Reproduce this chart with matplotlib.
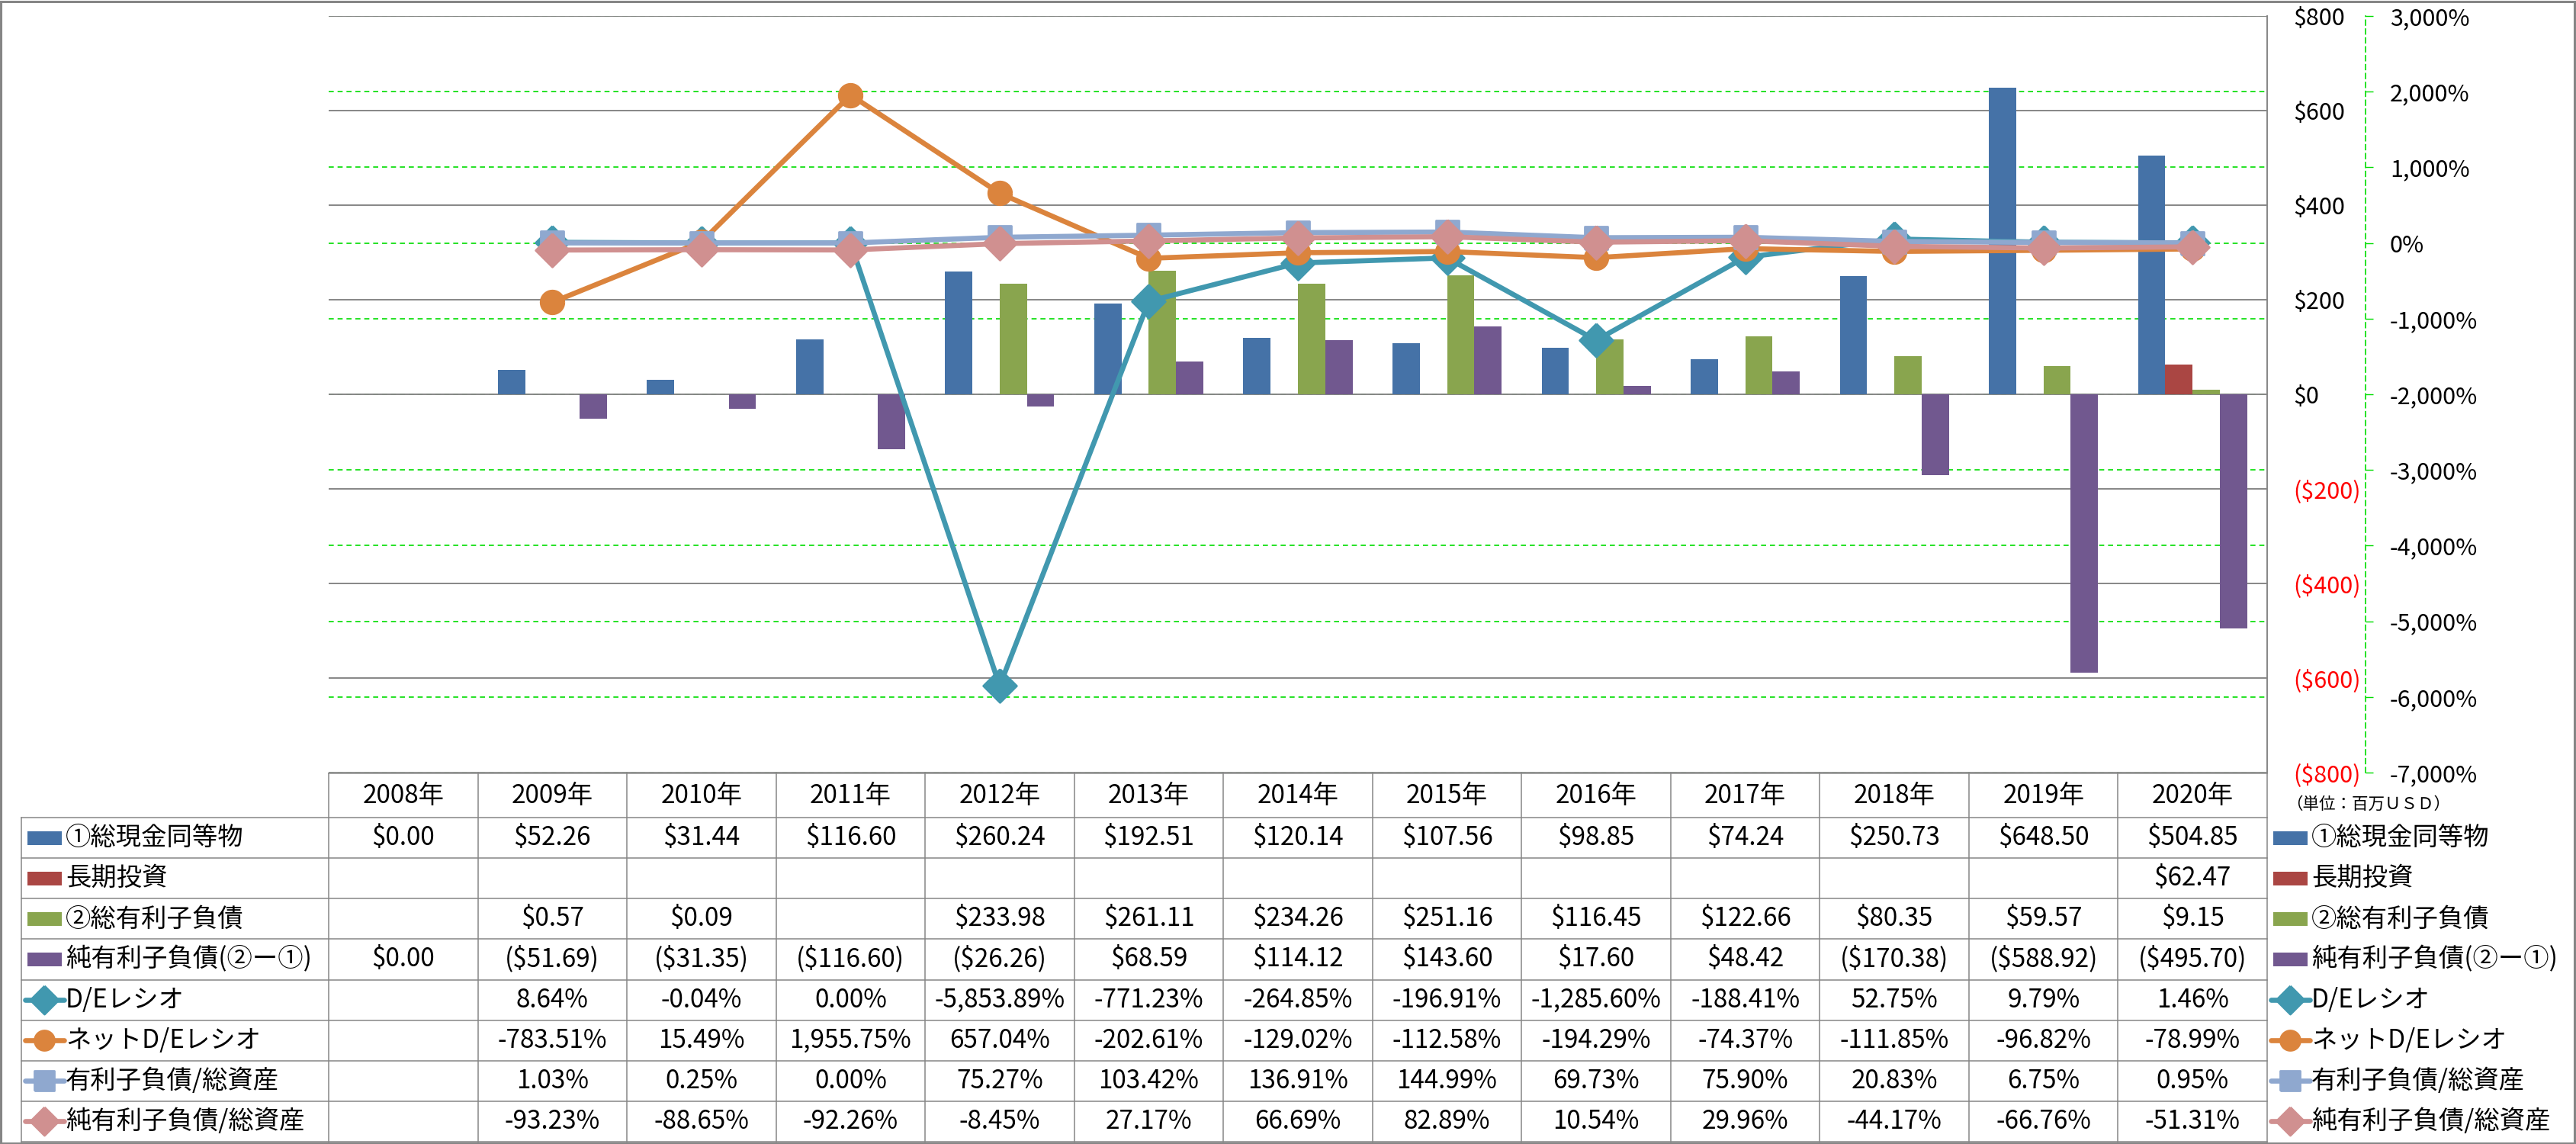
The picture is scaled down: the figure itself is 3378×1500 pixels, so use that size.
import matplotlib
matplotlib.use("Agg")
import matplotlib.pyplot as plt
import numpy as np
from matplotlib.patches import Rectangle
from matplotlib.markers import MarkerStyle

plt.rcParams['font.family'] = ['Noto Sans CJK JP', 'DejaVu Sans']

nan = np.nan
years = ["2008年", "2009年", "2010年", "2011年", "2012年", "2013年", "2014年",
         "2015年", "2016年", "2017年", "2018年", "2019年", "2020年"]

cash = [0.00, 52.26, 31.44, 116.60, 260.24, 192.51, 120.14, 107.56, 98.85, 74.24, 250.73, 648.50, 504.85]
lt_invest = [nan, nan, nan, nan, nan, nan, nan, nan, nan, nan, nan, nan, 62.47]
debt = [nan, 0.57, 0.09, nan, 233.98, 261.11, 234.26, 251.16, 116.45, 122.66, 80.35, 59.57, 9.15]
net_debt = [0.00, -51.69, -31.35, -116.60, -26.26, 68.59, 114.12, 143.60, 17.60, 48.42, -170.38, -588.92, -495.70]

de_ratio = [nan, 8.64, -0.04, 0.00, -5853.89, -771.23, -264.85, -196.91, -1285.60, -188.41, 52.75, 9.79, 1.46]
net_de_ratio = [nan, -783.51, 15.49, 1955.75, 657.04, -202.61, -129.02, -112.58, -194.29, -74.37, -111.85, -96.82, -78.99]
debt_assets = [nan, 1.03, 0.25, 0.00, 75.27, 103.42, 136.91, 144.99, 69.73, 75.90, 20.83, 6.75, 0.95]
net_debt_assets = [nan, -93.23, -88.65, -92.26, -8.45, 27.17, 66.69, 82.89, 10.54, 29.96, -44.17, -66.76, -51.31]

bar_names = ["①総現金同等物", "長期投資", "②総有利子負債", "純有利子負債(②ー①)"]
bar_data = [cash, lt_invest, debt, net_debt]
bar_colors = ["#4572A7", "#AA4643", "#89A54E", "#71588F"]

line_names = ["D/Eレシオ", "ネットD/Eレシオ", "有利子負債/総資産", "純有利子負債/総資産"]
line_data = [de_ratio, net_de_ratio, debt_assets, net_debt_assets]
line_colors = ["#4198AF", "#DB843D", "#8FA8CF", "#D09090"]
line_markers = ["D", "o", "s", "D"]
line_msize = [31.5, 22, 22, 31.5]

usd_ticks = [800, 600, 400, 200, 0, -200, -400, -600, -800]
pct_ticks = [3000, 2000, 1000, 0, -1000, -2000, -3000, -4000, -5000, -6000, -7000]


def marker(kind):
    # markers as vertex lists so markersize = full tip-to-tip size
    if kind == "D":
        verts = [(0, 1), (1, 0), (0, -1), (-1, 0), (0, 1)]
    elif kind == "s":
        verts = [(-1, -1), (1, -1), (1, 1), (-1, 1), (-1, -1)]
    else:
        t = np.linspace(0, 2 * np.pi, 41)
        verts = list(zip(np.cos(t), np.sin(t)))
    return MarkerStyle(verts, joinstyle="round")


def fmt_usd(v):
    if np.isnan(v):
        return ""
    return f"(${-v:,.2f})" if v < 0 else f"${v:,.2f}"


def fmt_pct(v):
    if np.isnan(v):
        return ""
    return f"{v:,.2f}%"


W, H = 3378, 1500
PL, PR, PT, PB = 431, 2973, 21, 1013
GRAY = "#868686"
GREEN = "#00DD00"
FS = 22
TFS = 24
LW = 4.8

fig = plt.figure(figsize=(W / 100, H / 100), dpi=100)
rect = [PL / W, 1 - PB / H, (PR - PL) / W, (PB - PT) / H]
x = np.arange(len(years))

# green % grid (behind everything)
ax_g = fig.add_axes(rect)
ax_g.set_xlim(-0.5, len(years) - 0.5)
ax_g.set_ylim(-7000, 3000)
ax_g.set_yticks(pct_ticks)
ax_g.grid(axis='y', color=GREEN, ls=(0, (4, 3)), lw=1.2)
ax_g.tick_params(left=False, bottom=False, labelleft=False, labelbottom=False)
for s in ax_g.spines.values():
    s.set_visible(False)

# bars, $ axis
ax_b = fig.add_axes(rect, sharex=ax_g)
ax_b.patch.set_visible(False)
ax_b.set_ylim(-800, 800)
ax_b.set_axisbelow(True)
ax_b.grid(axis='y', color=GRAY, lw=1.4)
w = 0.183
for k, (vals, c) in enumerate(zip(bar_data, bar_colors)):
    ax_b.bar(x + (k - 1.5) * w, np.array(vals, dtype=float), width=w, color=c, zorder=2)
ax_b.yaxis.tick_right()
ax_b.set_yticks(usd_ticks, [f"(${-v:,})" if v < 0 else f"${v:,}" for v in usd_ticks])
ax_b.tick_params(axis='y', length=0, pad=25, labelsize=FS)
ax_b.tick_params(axis='x', bottom=False, labelbottom=False)
for lab, v in zip(ax_b.get_yticklabels(), usd_ticks):
    lab.set_color("red" if v < 0 else "black")
for name, s in ax_b.spines.items():
    s.set_visible(name == "right")
ax_b.spines["right"].set_color(GRAY)
ax_b.spines["right"].set_linewidth(1.4)

# lines, % axis
ax_l = fig.add_axes(rect, sharex=ax_g)
ax_l.patch.set_visible(False)
ax_l.set_ylim(-7000, 3000)
for vals, c, m, ms in zip(line_data, line_colors, line_markers, line_msize):
    ax_l.plot(x, np.array(vals, dtype=float), color=c, lw=LW, marker=marker(m), ms=ms,
              mec=c, mfc=c, mew=2, solid_joinstyle='round', zorder=3)
ax_l.yaxis.tick_right()
ax_l.set_yticks(pct_ticks, [f"{v:,}%" for v in pct_ticks])
for lab, v in zip(ax_l.get_yticklabels(), pct_ticks):
    lab.set_color("red" if v < 0 else "black")
ax_l.tick_params(axis='y', direction='out', length=7, width=1, color=GREEN, pad=16, labelsize=FS)
ax_l.tick_params(axis='x', bottom=False, labelbottom=False)
for name, s in ax_l.spines.items():
    s.set_visible(name == "right")
ax_l.spines["right"].set_position(("axes", (3102 - PL) / (PR - PL)))
ax_l.spines["right"].set_color(GREEN)
ax_l.spines["right"].set_linestyle((0, (4, 3)))
ax_l.spines["right"].set_linewidth(1.2)

# data table + legend, in pixel coordinates
ax_t = fig.add_axes([0, 0, 1, 1], zorder=-1)
ax_t.set_xlim(0, W)
ax_t.set_ylim(H, 0)
ax_t.axis("off")

colw = (PR - PL) / len(years)
HT, RT, RB = 1014, 1072, 1497
rh = (RB - RT) / 8
LX = 28
tl = dict(color=GRAY, lw=1.1)

ax_t.plot([PL, PR], [HT, HT], **tl)
for k in range(9):
    yy = RT + k * rh
    ax_t.plot([LX, PR], [yy, yy], **tl)
for i in range(len(years) + 1):
    xx = PL + i * colw
    ax_t.plot([xx, xx], [HT, RB], **tl)
ax_t.plot([LX, LX], [RT, RB], **tl)

for i, yl in enumerate(years):
    ax_t.text(PL + (i + 0.5) * colw, (HT + RT) / 2, yl, ha="center", va="center", fontsize=TFS)

row_names = bar_names + line_names
row_data = bar_data + line_data
row_fmt = [fmt_usd] * 4 + [fmt_pct] * 4


def draw_key(kx, yc, k):
    if k < 4:
        ax_t.add_patch(Rectangle((kx, yc - 9), 45, 18, color=bar_colors[k], lw=0))
    else:
        j = k - 4
        c = line_colors[j]
        ax_t.plot([kx - 3, kx + 48], [yc, yc], color=c, lw=LW, solid_capstyle='round')
        ax_t.plot([kx + 22.5], [yc], marker=marker(line_markers[j]),
                  ms=line_msize[j] * 0.85, color=c, mew=2, lw=0)


for k in range(8):
    yc = RT + (k + 0.5) * rh
    draw_key(36, yc, k)
    ax_t.text(86, yc, row_names[k], ha="left", va="center", fontsize=TFS)
    for i, v in enumerate(row_data[k]):
        ax_t.text(PL + (i + 0.5) * colw, yc, row_fmt[k](v), ha="center", va="center", fontsize=TFS)
    # legend on the right
    draw_key(2981, yc, k)
    ax_t.text(3031, yc, row_names[k], ha="left", va="center", fontsize=TFS)

ax_t.text(2998, 1055, "（単位：百万ＵＳＤ）", ha="left", va="center", fontsize=15.5)

ax_t.add_patch(Rectangle((1.5, 1.5), W - 3, H - 3, fill=False, ec=GRAY, lw=2.2))

fig.savefig("out.png", dpi=100)
